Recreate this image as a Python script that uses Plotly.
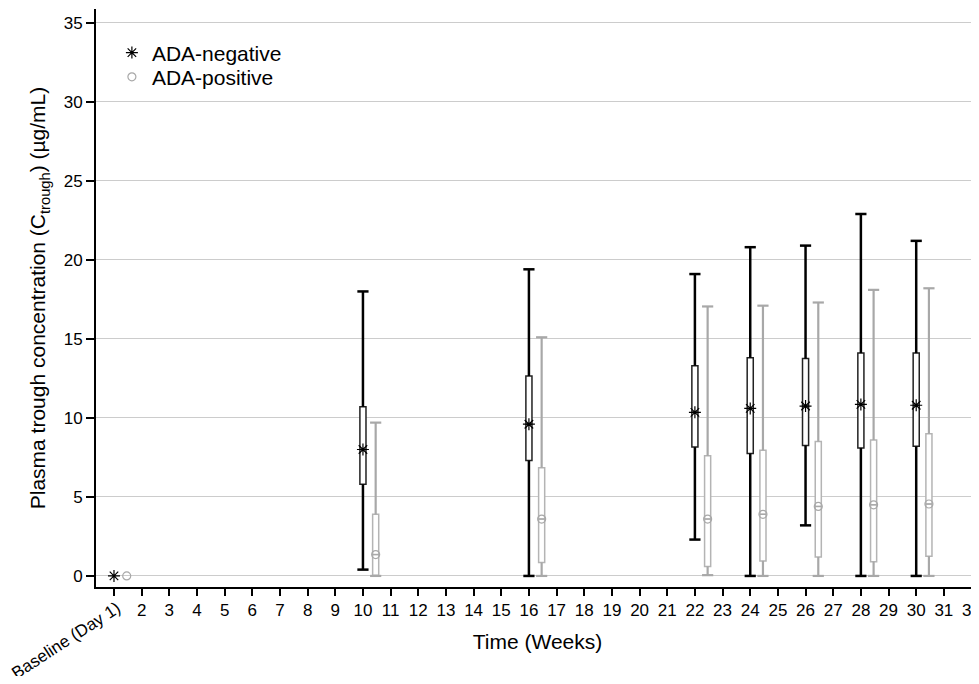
import plotly.graph_objects as go

# ---- data ----
weeks = [10, 16, 22, 24, 26, 28, 30]
neg_upper = [18.0, 19.4, 19.1, 20.8, 20.9, 22.9, 21.2]
neg_q3 = [10.7, 12.65, 13.3, 13.8, 13.75, 14.1, 14.1]
neg_mean = [8.0, 9.6, 10.35, 10.6, 10.75, 10.85, 10.8]
neg_q1 = [5.8, 7.3, 8.15, 7.75, 8.25, 8.1, 8.2]
neg_lower = [0.4, 0.0, 2.3, 0.0, 3.2, 0.0, 0.0]

pos_upper = [9.7, 15.1, 17.05, 17.1, 17.3, 18.1, 18.2]
pos_q3 = [3.9, 6.85, 7.6, 7.95, 8.5, 8.6, 9.0]
pos_mean = [1.35, 3.6, 3.6, 3.9, 4.4, 4.5, 4.55]
pos_q1 = [0.05, 0.85, 0.6, 0.95, 1.2, 0.9, 1.25]
pos_lower = [0.0, 0.0, 0.05, 0.0, 0.0, 0.0, 0.0]

baseline_week = 1
baseline_neg = 0.0
baseline_pos = 0.0

xtick_vals = list(range(1, 33))
xtick_text = [""] + [str(v) for v in range(2, 33)]
baseline_label = "Baseline (Day 1)"
ytick_vals = [0, 5, 10, 15, 20, 25, 30, 35]

# ---- styling ----
FONT = "Liberation Sans, Arial, Helvetica, sans-serif"
NEG = "#000000"
POS_W = "#a8a8a8"
POS_B = "#b4b4b4"
pos_shift = 0.46
box_w = 0.22

pos_x = [w + pos_shift for w in weeks]


def whisker_xy(xs, q1, q3, lo, hi):
    X, Y = [], []
    for x, a, b, l, h in zip(xs, q1, q3, lo, hi):
        X += [x, x, None, x, x, None]
        Y += [b, h, None, a, l, None]
    return X, Y


fig = go.Figure()

# boxes
fig.add_trace(go.Box(x=weeks, q1=neg_q1, median=neg_mean, q3=neg_q3,
                     lowerfence=neg_q1, upperfence=neg_q3, width=box_w,
                     fillcolor="white", line=dict(color="#222222", width=1.5),
                     showlegend=False, hoverinfo="skip"))
fig.add_trace(go.Box(x=pos_x, q1=pos_q1, median=pos_mean, q3=pos_q3,
                     lowerfence=pos_q1, upperfence=pos_q3, width=box_w,
                     fillcolor="white", line=dict(color=POS_B, width=1.5),
                     showlegend=False, hoverinfo="skip"))

# whiskers
wx, wy = whisker_xy(weeks, neg_q1, neg_q3, neg_lower, neg_upper)
fig.add_trace(go.Scatter(x=wx, y=wy, mode="lines", line=dict(color=NEG, width=2.5),
                         showlegend=False, hoverinfo="skip"))
wx, wy = whisker_xy(pos_x, pos_q1, pos_q3, pos_lower, pos_upper)
fig.add_trace(go.Scatter(x=wx, y=wy, mode="lines", line=dict(color=POS_W, width=2.2),
                         showlegend=False, hoverinfo="skip"))

# caps
fig.add_trace(go.Scatter(x=weeks + weeks, y=neg_upper + neg_lower, mode="markers",
                         marker=dict(symbol="line-ew-open", size=8, color=NEG,
                                     line=dict(color=NEG, width=2.5)),
                         showlegend=False, hoverinfo="skip"))
fig.add_trace(go.Scatter(x=pos_x + pos_x, y=pos_upper + pos_lower, mode="markers",
                         marker=dict(symbol="line-ew-open", size=8, color=POS_W,
                                     line=dict(color=POS_W, width=2.2)),
                         showlegend=False, hoverinfo="skip"))

# means
fig.add_trace(go.Scatter(x=[baseline_week] + weeks, y=[baseline_neg] + neg_mean,
                         mode="markers", name="ADA-negative", legend="legend",
                         marker=dict(symbol="asterisk-open", size=10, color=NEG,
                                     line=dict(color=NEG, width=1.2))))
fig.add_trace(go.Scatter(x=[baseline_week + pos_shift] + pos_x, y=[baseline_pos] + pos_mean,
                         mode="markers", name="ADA-positive", legend="legend2",
                         marker=dict(symbol="circle-open", size=8, color=POS_W,
                                     line=dict(color=POS_W, width=1.2))))
fig.add_trace(go.Scatter(x=pos_x, y=pos_mean,
                         mode="markers", showlegend=False, hoverinfo="skip",
                         marker=dict(symbol="line-ew-open", size=5, color=POS_W,
                                     line=dict(color=POS_W, width=1.2))))

fig.add_annotation(x=baseline_week, xref="x", y=0, yref="paper", text=baseline_label,
                   showarrow=False, textangle=-33, xanchor="right", yanchor="top",
                   xshift=13, yshift=-8, font=dict(size=17, color="black", family=FONT))

legend_common = dict(x=0.018, xanchor="left", yanchor="middle",
                     bgcolor="rgba(0,0,0,0)", font=dict(size=21, color="black"))

# page body adds an 8px offset, so the figure is sized to fit inside the window
fig.update_layout(
    width=971, height=668,
    margin=dict(l=88, r=0, t=1, b=89, autoexpand=False),
    plot_bgcolor="white", paper_bgcolor="white",
    font=dict(family=FONT, color="black", size=17),
    showlegend=True,
    legend=dict(y=0.924, **legend_common),
    legend2=dict(y=0.882, **legend_common),
    xaxis=dict(range=[0.35, 32.27], tickmode="array", tickvals=xtick_vals,
               ticktext=xtick_text, tickangle=0, showgrid=False, zeroline=False,
               showline=True, linecolor="black", linewidth=2,
               ticks="outside", ticklen=7, tickwidth=2, tickcolor="black",
               tickfont=dict(size=17), automargin=False, ticklabeloverflow="allow",
               title=dict(text="Time (Weeks)", font=dict(size=21), standoff=15)),
    yaxis=dict(range=[-0.7, 35.87], tickmode="array", tickvals=ytick_vals,
               showgrid=True, gridcolor="#cccccc", gridwidth=1, zeroline=False,
               showline=True, linecolor="black", linewidth=2,
               ticks="outside", ticklen=8, tickwidth=2, tickcolor="black",
               tickfont=dict(size=17), automargin=False,
               title=dict(text="Plasma trough concentration (C<sub>trough</sub>) (µg/mL)",
                          font=dict(size=21), standoff=12)),
)

fig.write_html("out.html")
